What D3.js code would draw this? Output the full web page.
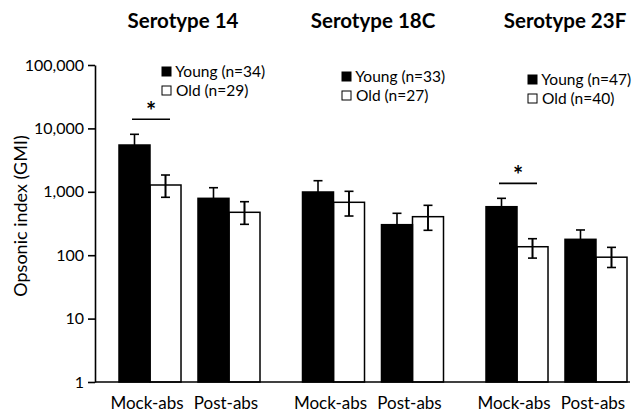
<!DOCTYPE html>
<html>
<head>
<meta charset="utf-8">
<script src="https://cdn.jsdelivr.net/npm/d3@7"></script>
<style>
  body { margin: 0; background: #fff; }
  svg { display: block; font-family: Lato, "Open Sans", sans-serif; }
</style>
</head>
<body>
<svg width="642" height="415"></svg>
<script>
// Panels, timepoints and groups
const serotypes = ["Serotype 14", "Serotype 18C", "Serotype 23F"];
const timepoints = ["Mock-abs", "Post-abs"];
const groups = ["Young", "Old"];

// n per group for each serotype
const youngN = [34, 33, 47];
const oldN = [29, 27, 40];

// GMI values, [Mock-abs, Post-abs] per serotype
const youngMean = [[5470, 789], [993, 303], [582, 178]];
const youngHigh = [[8070, 1160], [1496, 458], [789, 250]];
const youngLow  = [[3700, 540], [660, 200], [430, 127]];
const oldMean = [[1280, 475], [683, 405], [136, 93]];
const oldHigh = [[1840, 698], [1018, 612], [182, 133]];
const oldLow  = [[819, 307], [415, 247], [90, 64]];

// significant differences (serotype, timepoint)
const signif = [["Serotype 14", "Mock-abs"], ["Serotype 23F", "Mock-abs"]];

const yTicks = [1, 10, 100, 1000, 10000, 100000];

const svg = d3.select("svg");

const y = d3.scaleLog().domain([1, 100000]).range([382, 65]);
const xPanel = d3.scaleBand().domain(serotypes).range([119, 669.5]);
const xTime = d3.scaleBand().domain(timepoints).range([0, 141]).paddingInner(0.215);
const xGroup = d3.scaleBand().domain(groups).range([0, xTime.bandwidth()]);

// flatten into bar records
const bars = [];
serotypes.forEach((s, i) => {
  timepoints.forEach((t, j) => {
    bars.push({ s, t, g: "Young", v: youngMean[i][j], hi: youngHigh[i][j], lo: youngLow[i][j] });
    bars.push({ s, t, g: "Old", v: oldMean[i][j], hi: oldHigh[i][j], lo: oldLow[i][j] });
  });
});
const bx = d => xPanel(d.s) + xTime(d.t) + xGroup(d.g);

// error bars (drawn first so young lower whisker sits behind the bar)
const eb = svg.append("g").attr("stroke", "#000").attr("stroke-width", 1.6);
bars.forEach(d => {
  const cx = bx(d) + xGroup.bandwidth() / 2;
  eb.append("line").attr("x1", cx).attr("x2", cx).attr("y1", y(d.hi)).attr("y2", y(d.lo));
  eb.append("line").attr("x1", cx - 4.5).attr("x2", cx + 4.5).attr("y1", y(d.hi)).attr("y2", y(d.hi));
  eb.append("line").attr("x1", cx - 4.5).attr("x2", cx + 4.5).attr("y1", y(d.lo)).attr("y2", y(d.lo));
});

// bars
svg.append("g").selectAll("rect")
  .data(bars.filter(d => d.g === "Young"))
  .join("rect")
  .attr("x", bx)
  .attr("y", d => y(d.v))
  .attr("width", xGroup.bandwidth())
  .attr("height", d => y(1) - y(d.v))
  .attr("fill", "#000")
  .attr("stroke", "#000")
  .attr("stroke-width", 1.5);

svg.append("g").selectAll("rect")
  .data(bars.filter(d => d.g === "Old"))
  .join("rect")
  .attr("x", bx)
  .attr("y", d => y(d.v))
  .attr("width", xGroup.bandwidth())
  .attr("height", d => y(1) - y(d.v))
  .attr("fill", "none")
  .attr("stroke", "#000")
  .attr("stroke-width", 1.5);

// old bars' whiskers on top of white fill
const eb2 = svg.append("g").attr("stroke", "#000").attr("stroke-width", 1.6);
bars.filter(d => d.g === "Old").forEach(d => {
  const cx = bx(d) + xGroup.bandwidth() / 2;
  eb2.append("line").attr("x1", cx).attr("x2", cx).attr("y1", y(d.hi)).attr("y2", y(d.lo));
});

// y axis
const yAxis = d3.axisLeft(y)
  .tickValues(yTicks)
  .tickFormat(d3.format(","))
  .tickSizeInner(7)
  .tickSizeOuter(0)
  .tickPadding(4);
const ya = svg.append("g").attr("transform", "translate(95,0)").call(yAxis);
ya.select(".domain").attr("stroke-width", 1.6);
ya.selectAll(".tick line").attr("stroke-width", 1.6);
ya.selectAll(".tick text").attr("font-size", 16).attr("fill", "#000")
  .attr("font-family", "Lato, sans-serif");

// baseline
svg.append("line")
  .attr("x1", 95).attr("x2", 630)
  .attr("y1", y(1)).attr("y2", y(1))
  .attr("stroke", "#000").attr("stroke-width", 1.6);

// y label
svg.append("text")
  .attr("transform", "translate(27,216) rotate(-90)")
  .attr("text-anchor", "middle")
  .attr("font-size", 18)
  .text("Opsonic index (GMI)");

// x labels
serotypes.forEach(s => {
  timepoints.forEach(t => {
    svg.append("text")
      .attr("x", xPanel(s) + xTime(t) + xTime.bandwidth() / 2 - 3)
      .attr("y", 409)
      .attr("text-anchor", "middle")
      .attr("font-size", 17)
      .text(t);
  });
});

// panel titles
const titleX = [183, 373, 565];
serotypes.forEach((s, i) => {
  svg.append("text")
    .attr("x", titleX[i])
    .attr("y", 28)
    .attr("text-anchor", "middle")
    .attr("font-size", 20.5)
    .attr("font-weight", "bold")
    .text(s);
});

// legends
const legX = [162, 342, 528];
const legY = [72, 77, 80];
serotypes.forEach((s, i) => {
  const g = svg.append("g").attr("transform", `translate(${legX[i]},${legY[i]})`);
  const rows = [["Young", youngN[i]], ["Old", oldN[i]]];
  rows.forEach((r, k) => {
    g.append("rect")
      .attr("x", 0).attr("y", k * 19 - 5)
      .attr("width", 9).attr("height", 9)
      .attr("fill", k === 0 ? "#000" : "#fff")
      .attr("stroke", "#000").attr("stroke-width", 1);
    g.append("text")
      .attr("x", 10).attr("y", k * 19 + 5)
      .attr("font-size", 15.5)
      .text(`\u00a0${r[0]} (n=${r[1]})`);
  });
});

// significance markers
signif.forEach(([s, t]) => {
  const i = serotypes.indexOf(s), j = timepoints.indexOf(t);
  const top = y(Math.max(youngHigh[i][j], oldHigh[i][j])) - 15;
  const cx = xPanel(s) + xTime(t) + xTime.bandwidth() / 2 + 1;
  svg.append("line")
    .attr("x1", cx - 19).attr("x2", cx + 19)
    .attr("y1", top).attr("y2", top)
    .attr("stroke", "#000").attr("stroke-width", 1.6);
  svg.append("text")
    .attr("x", cx).attr("y", top + 1)
    .attr("text-anchor", "middle")
    .attr("font-size", 24)
    .attr("font-weight", "bold")
    .text("*");
});
</script>
</body>
</html>
